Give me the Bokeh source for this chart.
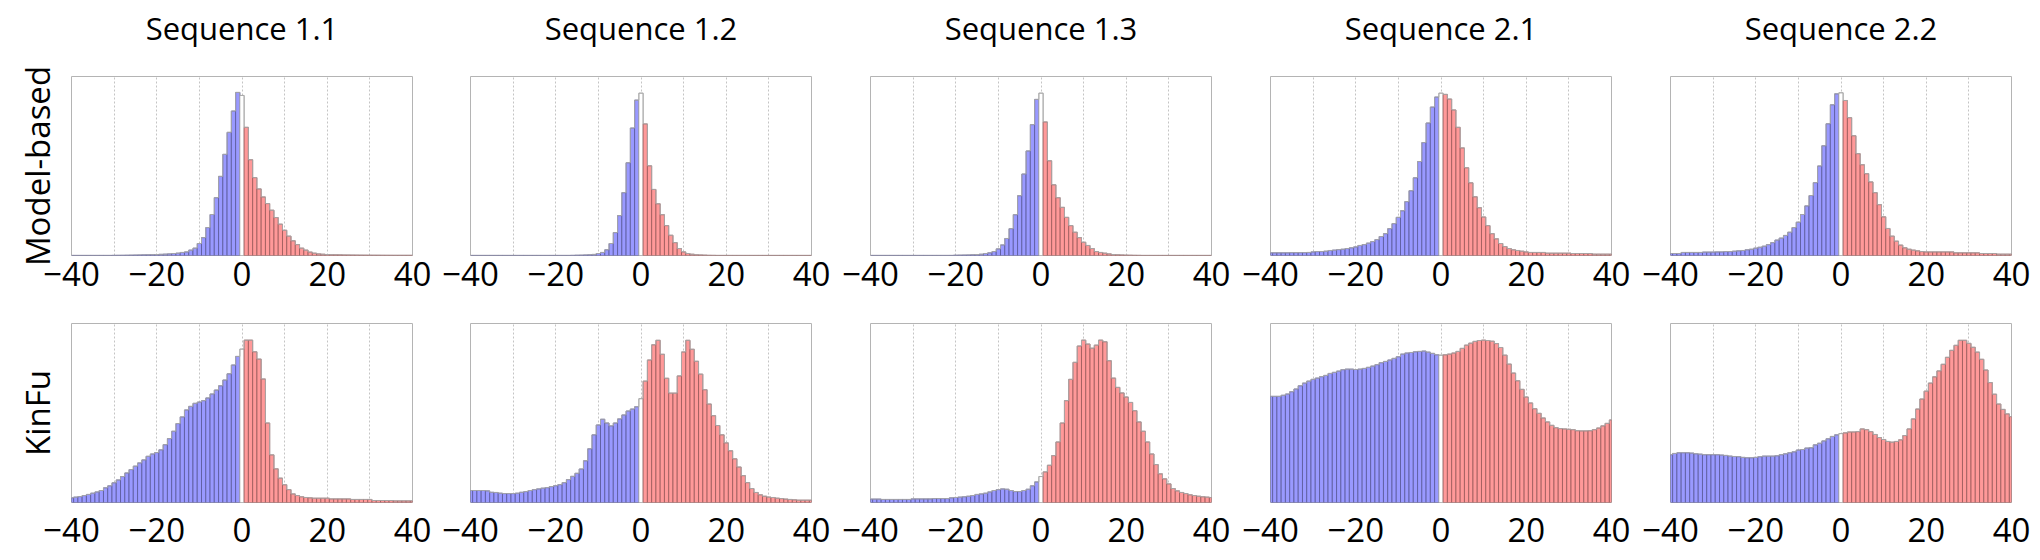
from bokeh.plotting import figure
from bokeh.layouts import row, column
from bokeh.models import FixedTicker, ColumnDataSource, LinearAxis, Title
from bokeh.embed import file_html
from bokeh.resources import INLINE

BINS = list(range(-40, 41))
TITLES = ["Sequence 1.1", "Sequence 1.2", "Sequence 1.3", "Sequence 2.1", "Sequence 2.2"]
ROW_LABELS = ["Model-based", "KinFu"]
X_TICKS = [-40, -20, 0, 20, 40]
GRID_TICKS = [-30, -20, -10, 0, 10, 20, 30]

# Model-based (relative bin heights, % of axis height), bins -40..40
MB_11 = [0.05, 0.05, 0.05, 0.05, 0.05, 0.05, 0.05, 0.05, 0.05, 0.05,
         0.08, 0.1, 0.12, 0.15, 0.2, 0.25, 0.3, 0.35, 0.4, 0.45,
         0.55, 0.65, 0.75, 0.9, 1.1, 1.3, 1.7, 2.0, 3.0, 4.1,
         6.7, 10.0, 15.6, 22.9, 32.3, 44.2, 56.5, 68.8, 80.7, 91.1,
         89.4,
         71.6, 53.5, 43.5, 37.2, 32.7, 29.0, 25.3, 21.2, 17.5, 14.1,
         10.8, 8.2, 6.1, 4.1, 3.0, 1.9, 1.3, 0.9, 0.7, 0.55,
         0.45, 0.4, 0.35, 0.3, 0.28, 0.25, 0.22, 0.2, 0.18, 0.16,
         0.15, 0.14, 0.13, 0.12, 0.11, 0.1, 0.1, 0.1, 0.1, 0.1]
MB_12 = [0.05] * 24 + [
         0.08, 0.15, 0.2, 0.3, 0.4, 0.6, 1.1, 1.7, 3.2, 6.7,
         12.8, 22.3, 35.1, 51.8, 71.2, 86.8,
         90.7,
         73.5, 50.1, 36.9, 28.9, 22.8, 16.7, 11.3, 7.2, 3.9, 2.0,
         1.1, 0.7, 0.4, 0.3, 0.2, 0.1, 0.08] + [0.05] * 23
MB_13 = [0.05] * 20 + [
         0.15, 0.2, 0.25, 0.3, 0.4, 0.55, 0.7, 1.1, 1.5, 2.2,
         3.7, 5.9, 9.5, 15.0, 22.8, 33.4, 45.5, 58.4, 73.1, 87.2,
         90.7,
         74.6, 52.9, 39.5, 32.3, 26.9, 21.3, 16.7, 13.0, 10.0, 7.4,
         5.6, 3.9, 2.2, 1.7, 1.3, 0.9, 0.55, 0.4, 0.3, 0.2,
         0.15, 0.1, 0.08] + [0.05] * 17
MB_21 = [1.5, 1.5, 1.5, 1.5, 1.5, 1.6, 1.6, 1.6, 1.6,
         1.7, 2.0, 2.2, 2.2, 2.4, 2.8, 3.0, 3.3, 3.5, 3.9, 4.3,
         4.8, 5.6, 6.1, 6.9, 7.8, 8.9, 10.6, 12.2, 15.0, 17.8,
         21.3, 25.0, 30.1, 36.2, 43.4, 52.5, 63.1, 74.0, 82.9, 88.5,
         90.7,
         90.0, 87.4, 81.3, 71.6, 60.1, 49.0, 40.6, 32.8, 26.7, 21.5,
         16.7, 12.2, 9.3, 6.7, 5.0, 3.9, 3.2, 2.8, 2.4, 2.0,
         1.7, 1.7, 1.7, 1.7, 1.3, 1.3, 1.3, 1.3, 1.3, 1.3,
         1.1, 1.1, 1.1, 1.1, 1.1, 0.75, 0.75, 0.75, 0.75, 0.75]
MB_22 = [1.1, 1.1, 1.1, 1.7, 1.7, 1.7, 1.7, 1.7, 1.9, 1.9,
         1.9, 2.0, 2.0, 2.2, 2.2, 2.4, 2.6, 2.8, 3.2, 3.5,
         4.1, 4.6, 5.2, 6.1, 7.2, 8.6, 9.7, 11.2, 13.0, 15.6,
         18.6, 22.9, 27.7, 33.5, 40.7, 50.0, 61.3, 73.6, 84.2, 90.3,
         90.9,
         86.6, 77.0, 66.9, 56.9, 50.7, 45.7, 41.1, 35.1, 28.4, 21.6,
         15.1, 10.8, 8.0, 5.8, 4.3, 3.5, 3.0, 2.6, 2.2, 2.0,
         2.0, 2.0, 2.0, 2.0, 2.0, 2.0, 1.5, 1.5, 1.5, 1.5,
         1.5, 1.5, 1.1, 1.1, 1.1, 1.1, 0.75, 0.75, 0.75, 0.75]

# KinFu
KF_11 = [2.6, 3.0, 3.3, 3.9, 4.5, 5.2, 5.9, 6.7, 8.2, 9.3,
         11.0, 12.6, 14.5, 16.5, 18.4, 20.3, 22.1, 23.8, 25.8, 27.1,
         27.9, 29.4, 32.3, 35.7, 39.8, 44.1, 47.8, 51.7, 53.7, 55.4,
         56.1, 56.9, 58.4, 60.6, 62.8, 65.2, 68.4, 71.9, 76.8, 81.6,
         85.7,
         90.7, 90.7, 84.2, 80.1, 69.0, 44.4, 26.6, 18.8, 13.6, 9.9,
         7.2, 4.8, 3.9, 3.2, 2.8, 2.6, 2.4, 2.4, 2.4, 2.4,
         2.0, 2.0, 2.0, 2.0, 2.0, 1.7, 1.7, 1.7, 1.7, 1.7,
         1.1, 1.1, 1.1, 1.1, 1.1, 0.9, 0.9, 0.9, 0.9, 0.9]
KF_12 = [6.7, 6.7, 6.7, 6.7, 6.5, 5.7, 5.6, 5.2, 5.0, 5.0,
         5.0, 5.2, 5.7, 6.1, 6.7, 7.2, 7.6, 8.0, 8.3, 8.9,
         9.4, 10.0, 11.1, 12.8, 14.6, 16.3, 18.7, 23.3, 30.0, 37.8,
         43.3, 46.5, 44.4, 42.8, 44.4, 46.7, 48.9, 51.1, 52.2, 53.5,
         58.0,
         67.8, 79.6, 88.1, 90.6, 82.8, 69.4, 61.1, 61.1, 70.7, 84.1,
         90.6, 85.6, 78.9, 71.7, 63.0, 55.0, 48.5, 43.0, 37.8, 33.3,
         28.9, 24.4, 19.8, 15.0, 11.1, 7.8, 5.6, 4.3, 3.5, 3.0,
         2.8, 2.4, 2.2, 1.9, 1.7, 1.5, 1.3, 1.3, 1.3, 1.3]
KF_13 = [1.9, 1.9, 1.9, 1.7, 1.7, 1.7, 1.7, 1.7, 1.7, 1.7,
         2.0, 2.0, 2.0, 2.0, 2.0, 2.2, 2.2, 2.2, 2.2, 2.6,
         2.8, 3.0, 3.2, 3.5, 3.9, 4.5, 4.8, 5.2, 5.9, 6.7,
         7.2, 7.6, 7.4, 6.7, 6.1, 6.1, 6.7, 7.4, 9.3, 11.5,
         14.5,
         17.1, 20.8, 26.2, 33.8, 44.4, 56.9, 68.8, 78.3, 87.4, 90.7,
         88.5, 86.2, 87.9, 90.7, 89.8, 79.2, 69.5, 64.3, 61.2, 58.9,
         55.9, 51.3, 45.0, 39.8, 33.8, 27.1, 21.2, 16.0, 13.2, 10.4,
         7.8, 6.5, 5.6, 5.0, 4.3, 3.9, 3.5, 3.2, 3.0, 2.8]
KF_21 = [59.3, 59.3, 59.3, 59.9, 60.6, 61.9, 63.4, 65.2, 66.7, 67.8,
         68.8, 69.5, 70.3, 71.0, 72.1, 72.7, 73.4, 74.2, 74.5, 74.5,
         74.3, 74.5, 74.9, 75.5, 76.2, 77.0, 78.1, 78.8, 79.6, 80.5,
         81.4, 82.9, 83.5, 83.8, 84.2, 84.4, 84.6, 84.0, 83.3, 82.5,
         82.3,
         82.5, 82.9, 83.5, 84.4, 86.1, 87.9, 89.0, 90.0, 90.5, 90.7,
         90.5, 90.1, 88.8, 86.6, 82.3, 77.3, 72.3, 68.0, 63.2, 58.9,
         55.6, 52.4, 49.8, 47.2, 45.0, 43.1, 41.8, 41.3, 41.1, 40.9,
         40.7, 40.1, 40.0, 40.0, 40.1, 40.7, 41.6, 42.8, 44.2, 46.1]
KF_22 = [26.7, 27.4, 27.8, 27.8, 27.8, 27.6, 27.2, 27.0, 26.7, 26.7,
         26.7, 26.7, 26.5, 26.3, 25.9, 25.7, 25.6, 25.2, 25.0, 25.0,
         25.2, 25.6, 25.9, 25.9, 25.9, 26.1, 26.7, 27.2, 27.8, 28.3,
         29.3, 29.6, 30.4, 30.6, 32.2, 33.1, 34.4, 35.6, 36.9, 37.8,
         38.5,
         38.9, 39.4, 39.4, 39.6, 41.1, 40.7, 39.6, 38.0, 36.3, 35.2,
         34.1, 33.7, 34.1, 35.0, 37.4, 41.1, 46.7, 52.2, 57.8, 62.2,
         66.7, 70.2, 73.5, 77.2, 81.1, 85.0, 87.8, 90.6, 90.6, 88.9,
         86.7, 84.0, 80.0, 74.0, 67.0, 60.5, 55.0, 52.0, 49.5, 48.0]

ROWS = [[MB_11, MB_12, MB_13, MB_21, MB_22],
        [KF_11, KF_12, KF_13, KF_21, KF_22]]
for r in ROWS:
    for v in r:
        assert len(v) == 81, len(v)

FONT = "Open Sans"
BLUE_FILL, BLUE_LINE = "#9999ff", "#5c5c9c"
RED_FILL, RED_LINE = "#ff9999", "#9c5c5c"
GRAY = "#aaaaaa"


def plain_axis(ax, size, standoff):
    ax.major_tick_line_color = None
    ax.minor_tick_line_color = None
    ax.axis_line_color = None
    ax.major_label_text_font = FONT
    ax.major_label_text_font_size = size
    ax.major_label_text_color = "black"
    ax.major_label_standoff = standoff


def panel(vals, col, ri):
    p = figure(frame_width=341, frame_height=179,
               x_range=(-40, 40), y_range=(0, 100),
               min_border_left=69 if col == 0 else 38,
               min_border_right=20 if col == 0 else 21,
               min_border_top=76 if ri == 0 else 23,
               min_border_bottom=45 if ri == 0 else 50,
               y_axis_location=None,
               output_backend="svg", toolbar_location=None, tools="")
    p.background_fill_color = "white"
    p.border_fill_color = "white"
    p.outline_line_color = "#b4b4b4"
    p.outline_line_width = 1

    neg = [(x, v) for x, v in zip(BINS, vals) if x < 0]
    zer = [(x, v) for x, v in zip(BINS, vals) if x == 0]
    pos = [(x, v) for x, v in zip(BINS, vals) if x > 0]
    for grp, fc, lc in ((neg, BLUE_FILL, BLUE_LINE), (zer, "white", GRAY), (pos, RED_FILL, RED_LINE)):
        src = ColumnDataSource(dict(x=[g[0] for g in grp], top=[g[1] for g in grp]))
        p.vbar(x="x", top="top", bottom=0, width=1, source=src,
               fill_color=fc, line_color=lc, line_width=1, line_alpha=0.85)
    p.step(x=BINS, y=vals, mode="center", line_color=GRAY, line_width=1, line_alpha=0.9)

    p.xgrid.ticker = FixedTicker(ticks=GRID_TICKS)
    p.xgrid.grid_line_color = "#c4c4c4"
    p.xgrid.grid_line_dash = "2 2"
    p.ygrid.visible = False

    ax = p.xaxis[0]
    ax.ticker = FixedTicker(ticks=X_TICKS)
    plain_axis(ax, "33px", 0 if ri == 0 else 9)

    if col == 0:
        p.add_layout(Title(text=ROW_LABELS[ri], align="center", standoff=24,
                           text_font=FONT, text_font_size="33px", text_font_style="normal",
                           text_color="black"), "left")

    if ri == 0:
        ta = LinearAxis(ticker=FixedTicker(ticks=[0]), major_label_overrides={0: TITLES[col]})
        plain_axis(ta, "31px", 22)
        p.add_layout(ta, "above")
    return p


rows = []
for ri, r in enumerate(ROWS):
    rows.append(row(*[panel(v, c, ri) for c, v in enumerate(r)]))
layout = column(*rows)

open("out.html", "w").write(file_html(layout, INLINE))
